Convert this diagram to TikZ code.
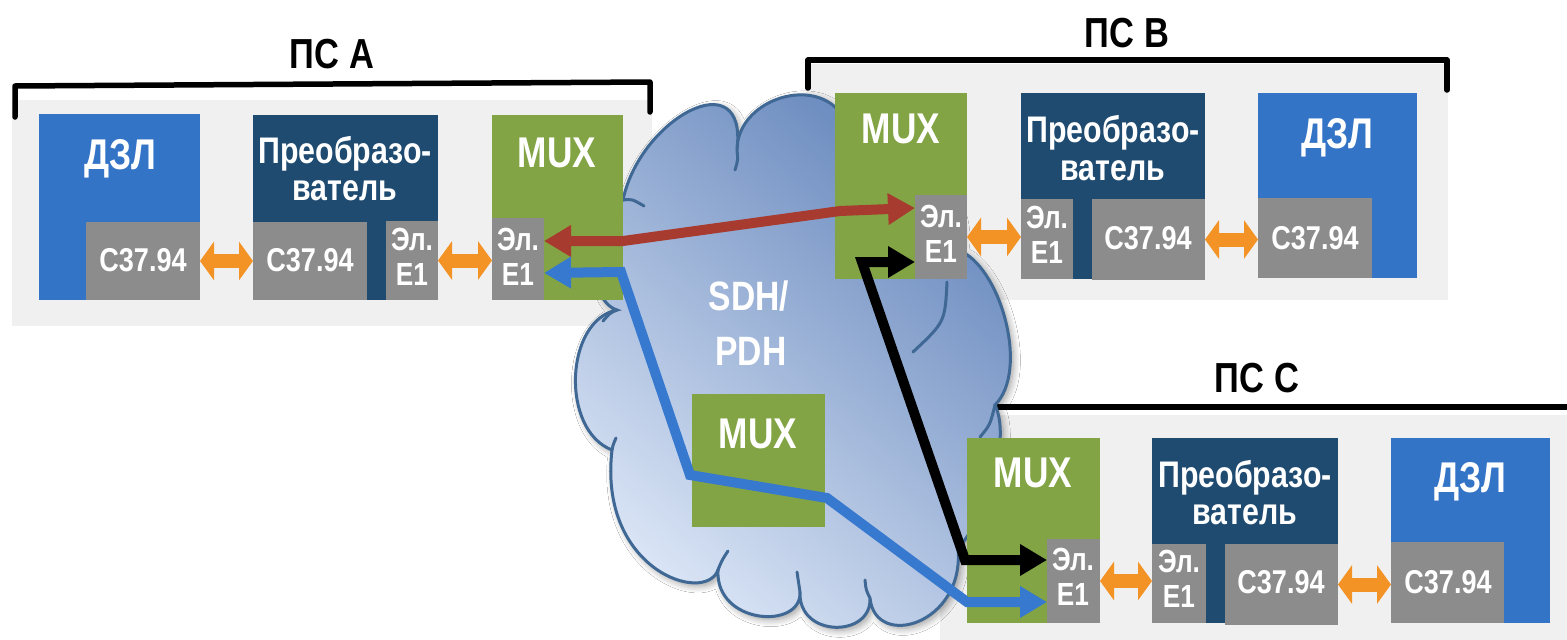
\documentclass[tikz,border=0pt]{standalone}
\usepackage{fontspec}
\setmainfont{Liberation Sans}
\newfontfamily\narrowfont{Liberation Sans}[FakeStretch=0.82]
\usetikzlibrary{arrows.meta,shadows.blur}
\newcommand\pxsize[1]{\fontsize{#1}{#1}\selectfont}
\definecolor{panelgray}{HTML}{F0F0F0}
\definecolor{dzlblue}{HTML}{3474C7}
\definecolor{convnavy}{HTML}{1F4B71}
\definecolor{muxgreen}{HTML}{83A444}
\definecolor{portgray}{HTML}{8C8C8C}
\definecolor{linkorange}{HTML}{F39325}
\definecolor{linkred}{HTML}{A83B2F}
\definecolor{linkblue}{HTML}{3679CF}
\definecolor{cloudedge}{HTML}{3F6895}
\definecolor{cloudlight}{HTML}{DDE7F7}
\definecolor{clouddark}{HTML}{6183BA}
\begin{document}
\begin{tikzpicture}[x=1pt,y=-1pt,
  block/.style={inner sep=0pt,outer sep=0pt,anchor=north west,draw=none},
  panel/.style={block,fill=panelgray},
  dzl/.style={block,fill=dzlblue},
  conv/.style={block,fill=convnavy},
  mux/.style={block,fill=muxgreen},
  port/.style={block,fill=portgray},
  txt/.style={text=white,inner sep=0pt,outer sep=0pt,anchor=base},
  title/.style={text=black,inner sep=0pt,outer sep=0pt,anchor=base,font=\narrowfont\bfseries\pxsize{42}},
  bigtx/.style={txt,font=\narrowfont\bfseries\pxsize{43}},
  convtx/.style={txt,font=\narrowfont\bfseries\pxsize{37}},
  porttx/.style={txt,font=\narrowfont\bfseries\pxsize{33}},
  e1tx/.style={txt,font=\narrowfont\bfseries\pxsize{32}},
  cloudtx/.style={txt,font=\narrowfont\bfseries\pxsize{41}},
  bracket/.style={line width=5.5pt,line cap=round,line join=round},
  cloudline/.style={draw=cloudedge,line width=3pt,line cap=round},
  duplex/.style={draw=linkorange,line width=14pt,arrows={Triangle[length=14pt,width=38pt]-Triangle[length=14pt,width=38pt]}},
  link/.style={line width=10pt,line join=miter,arrows={Triangle[length=27pt,width=30pt]-Triangle[length=27pt,width=30pt]}},
]
\useasboundingbox (0,0) rectangle (1567,640);
\fill[white] (0,0) rectangle (1567,640);

% substation backgrounds
\node[panel,minimum width=640pt,minimum height=226pt] (aPanel) at (12,100) {};
\node[panel,minimum width=642pt,minimum height=236pt] (bPanel) at (806,64) {};
\node[panel,minimum width=640pt,minimum height=230pt] (cPanel) at (940,415) {};

% brackets and titles
\draw[bracket] (15,117) -- (15,86) -- (650,82) -- (650,112);
\draw[bracket] (808,88) -- (808,60) -- (1447,60) -- (1447,90);
\draw[bracket] (950,432) -- (950,407) -- (1575,407);
\node[title] (aTitle) at (332,68) {ПС А};
\node[title] (bTitle) at (1127,47) {ПС В};
\node[title] (cTitle) at (1257,392) {ПС С};

% SDH/PDH network cloud
\path[cloudline,top color=clouddark,bottom color=cloudlight,shading angle=-40,
  blur shadow={shadow xshift=3pt,shadow yshift=-3pt,shadow blur radius=7pt,shadow blur steps=10,shadow opacity=40}]
  (623,200) .. controls (640,118) and (748,60) .. (737,150)
  .. controls (737,95) and (830,70) .. (848,128)
  .. controls (880,95) and (975,190) .. (958,250)
  .. controls (1000,265) and (1030,370) .. (995,405)
  .. controls (1012,440) and (985,520) .. (958,548)
  .. controls (965,625) and (875,650) .. (870,598)
  .. controls (872,638) and (798,638) .. (800,592)
  .. controls (802,630) and (715,625) .. (718,570)
  .. controls (705,605) and (598,570) .. (612,450)
  .. controls (560,430) and (565,320) .. (617,310)
  .. controls (585,300) and (585,215) .. (623,200) -- cycle;
\draw[cloudline] (623,200) .. controls (632,199) .. (644,206);
\draw[cloudline] (737,150) .. controls (738,160) .. (735,170);
\draw[cloudline] (947,282) .. controls (945,322) .. (913,352);
\draw[cloudline] (995,405) .. controls (990,425) .. (980,437);
\draw[cloudline] (870,598) .. controls (866,590) .. (865,580);
\draw[cloudline] (800,592) .. controls (798,582) .. (797,572);
\draw[cloudline] (718,570) .. controls (722,560) .. (728,551);
\draw[cloudline] (612,450) .. controls (613,445) .. (616,438);
\draw[cloudline] (617,310) .. controls (610,313) .. (603,321);
\node[cloudtx] (sdh) at (749,310) {SDH/};
\node[cloudtx] (pdh) at (751,365) {PDH};
\node[mux,minimum width=133pt,minimum height=133pt] (sMux) at (692,394) {};
\node[bigtx] (sMuxT) at (758,448) {MUX};

% substation A
\node[dzl,minimum width=161pt,minimum height=186pt] (aDzl) at (39,114) {};
\node[port,minimum width=114pt,minimum height=78pt] (aDzlPort) at (86,222) {};
\node[conv,minimum width=185pt,minimum height=185pt] (aConv) at (253,115) {};
\node[port,minimum width=114pt,minimum height=78pt] (aConvPort) at (253,222) {};
\node[port,minimum width=52pt,minimum height=79pt] (aConvE1) at (386,221) {};
\node[mux,minimum width=131pt,minimum height=185pt] (aMux) at (492,115) {};
\node[port,minimum width=52pt,minimum height=82pt] (aMuxE1) at (492,218) {};
\node[bigtx] (aDzlT) at (120,169) {ДЗЛ};
\node[porttx] (aDzlPortT) at (143,271) {C37.94};
\node[convtx] (aConvT1) at (345,163) {Преобразо-};
\node[convtx] (aConvT2) at (345,200) {ватель};
\node[porttx] (aConvPortT) at (310,271) {C37.94};
\node[e1tx] (aConvE1a) at (412,250) {Эл.};
\node[e1tx] (aConvE1b) at (412,285) {E1};
\node[bigtx] (aMuxT) at (557,167) {MUX};
\node[e1tx] (aMuxE1a) at (518,250) {Эл.};
\node[e1tx] (aMuxE1b) at (518,285) {E1};

% substation B
\node[mux,minimum width=132pt,minimum height=186pt] (bMux) at (835,93) {};
\node[port,minimum width=52pt,minimum height=84pt] (bMuxE1) at (915,195) {};
\node[conv,minimum width=184pt,minimum height=186pt] (bConv) at (1021,93) {};
\node[port,minimum width=52pt,minimum height=80pt] (bConvE1) at (1021,199) {};
\node[port,minimum width=113pt,minimum height=81pt] (bConvPort) at (1092,199) {};
\node[dzl,minimum width=159pt,minimum height=185pt] (bDzl) at (1258,93) {};
\node[port,minimum width=114pt,minimum height=80pt] (bDzlPort) at (1258,198) {};
\node[bigtx] (bMuxT) at (901,143) {MUX};
\node[e1tx] (bMuxE1a) at (941,227) {Эл.};
\node[e1tx] (bMuxE1b) at (941,262) {E1};
\node[convtx] (bConvT1) at (1113,142) {Преобразо-};
\node[convtx] (bConvT2) at (1113,180) {ватель};
\node[e1tx] (bConvE1a) at (1047,228) {Эл.};
\node[e1tx] (bConvE1b) at (1047,263) {E1};
\node[porttx] (bConvPortT) at (1148,249) {C37.94};
\node[bigtx] (bDzlT) at (1337,148) {ДЗЛ};
\node[porttx] (bDzlPortT) at (1315,249) {C37.94};

% substation C
\node[mux,minimum width=133pt,minimum height=185pt] (cMux) at (967,438) {};
\node[port,minimum width=53pt,minimum height=84pt] (cMuxE1) at (1047,539) {};
\node[conv,minimum width=186pt,minimum height=185pt] (cConv) at (1152,438) {};
\node[port,minimum width=54pt,minimum height=79pt] (cConvE1) at (1152,544) {};
\node[port,minimum width=113pt,minimum height=81pt] (cConvPort) at (1225,544) {};
\node[dzl,minimum width=159pt,minimum height=185pt] (cDzl) at (1391,438) {};
\node[port,minimum width=113pt,minimum height=81pt] (cDzlPort) at (1391,542) {};
\node[bigtx] (cMuxT) at (1033,487) {MUX};
\node[e1tx] (cMuxE1a) at (1073,570) {Эл.};
\node[e1tx] (cMuxE1b) at (1073,605) {E1};
\node[convtx] (cConvT1) at (1245,487) {Преобразо-};
\node[convtx] (cConvT2) at (1245,524) {ватель};
\node[e1tx] (cConvE1a) at (1179,572) {Эл.};
\node[e1tx] (cConvE1b) at (1179,607) {E1};
\node[porttx] (cConvPortT) at (1281,593) {C37.94};
\node[bigtx] (cDzlT) at (1470,492) {ДЗЛ};
\node[porttx] (cDzlPortT) at (1448,593) {C37.94};

% routes through the network
\coordinate (r1) at (623,241);
\coordinate (r2) at (840,211);
\coordinate (b1) at (621,272);
\coordinate (b2) at (690,475);
\coordinate (b3) at (827,498);
\coordinate (b4) at (967,602);
\coordinate (k1) at (862,262);
\coordinate (k2) at (965,560);
\draw[link,linkred] ([yshift=18pt]aMuxE1.east) -- (r1) -- (r2) -- ([yshift=29pt]bMuxE1.west);
\draw[link,linkblue] ([yshift=-14pt]aMuxE1.east) -- (b1) -- (b2) -- (b3) -- (b4) -- ([yshift=-21pt]cMuxE1.west);
\draw[link,black] ([yshift=-25pt]bMuxE1.west) -- (k1) -- (k2) -- ([yshift=21pt]cMuxE1.west);

% local electrical / optical connections
\draw[duplex] (aDzlPort.east) -- (aConvPort.west);
\draw[duplex] (aConvE1.east) -- (aConvE1.east -| aMuxE1.west);
\draw[duplex] (bMuxE1.east) -- (bMuxE1.east -| bConvE1.west);
\draw[duplex] (bConvPort.east) -- (bConvPort.east -| bDzlPort.west);
\draw[duplex] (cMuxE1.east) -- (cMuxE1.east -| cConvE1.west);
\draw[duplex] (cConvPort.east) -- (cConvPort.east -| cDzlPort.west);
\end{tikzpicture}
\end{document}
